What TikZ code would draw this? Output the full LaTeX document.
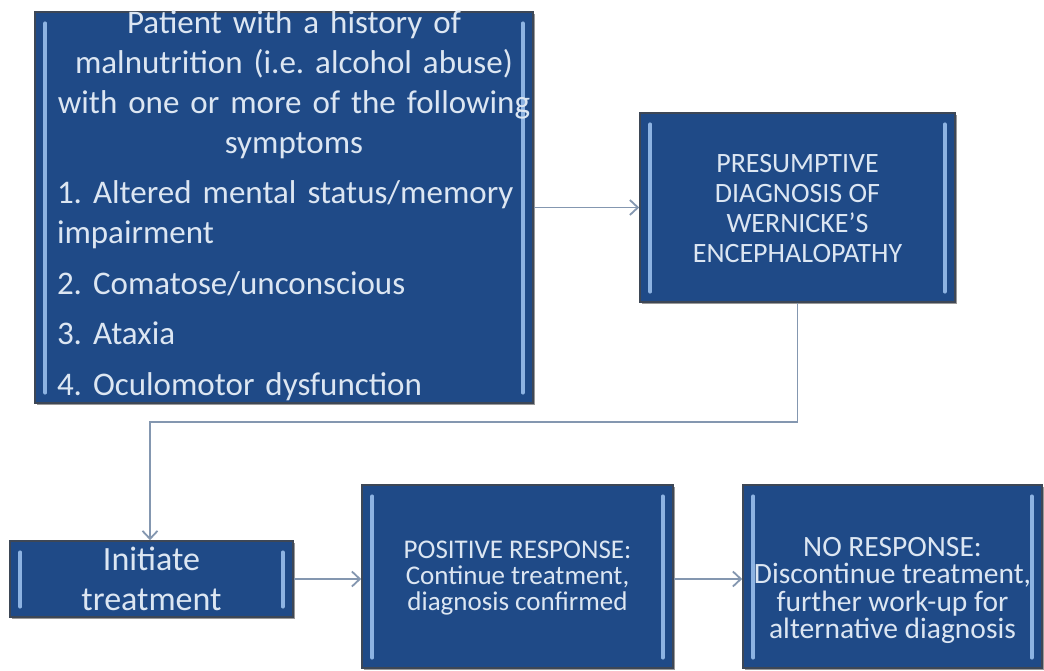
\documentclass[tikz,border=0pt]{standalone}
\usepackage{fontspec}
\setmainfont{Carlito}
\usetikzlibrary{arrows.meta,shadows}
\definecolor{boxblue}{HTML}{1F4A87}
\definecolor{boxedge}{HTML}{3D4756}
\definecolor{stripc}{HTML}{8DB3E2}
\definecolor{txtc}{HTML}{DCE6F2}
\definecolor{connc}{HTML}{8497B0}
\newcommand\sidestrips[1]{%
  \draw[stripline] ([xshift=11pt,yshift=-12pt]#1.north west) -- ([xshift=11pt,yshift=11pt]#1.south west);
  \draw[stripline] ([xshift=-11pt,yshift=-12pt]#1.north east) -- ([xshift=-11pt,yshift=11pt]#1.south east);}
\frenchspacing
\begin{document}
\begin{tikzpicture}[x=1pt,y=-1pt,
  box/.style={draw=boxedge, line width=1.6pt, fill=boxblue, inner sep=0pt,
    drop shadow={shadow xshift=1.5pt,shadow yshift=-2pt,opacity=0.4,fill=black}},
  lbl/.style={text=txtc, inner sep=0pt, align=center, anchor=north},
  stripline/.style={draw=stripc, line width=3.5pt, line cap=round},
  conn/.style={draw=connc, line width=1.8pt},
  arr/.style={conn, -{Straight Barb[length=8pt,width=15pt,line width=1.8pt]}}
]
\useasboundingbox (0,0) rectangle (1044,671);
\fill[white] (0,0) rectangle (1044,671);

\node[box, minimum width=498pt, minimum height=391pt] (b1) at (284,207.5) {};
\node[box, minimum width=315pt, minimum height=189pt] (b2) at (797.5,207.5) {};
\node[box, minimum width=283pt, minimum height=76pt] (b3) at (151.5,579) {};
\node[box, minimum width=311pt, minimum height=183pt] (b4) at (517.5,576.5) {};
\node[box, minimum width=299pt, minimum height=183pt] (b5) at (892.5,576.5) {};

\sidestrips{b1}
\sidestrips{b2}
\sidestrips{b3}
\sidestrips{b4}
\sidestrips{b5}

\node[lbl, text width=474pt, align=left, font=\fontsize{33}{40}\selectfont] (t1) at (294,10)
 {\frenchspacing\parskip=10.5pt {\centering Patient with a history of\\ malnutrition (i.e. alcohol abuse)\\ with one or more of the following\\ symptoms\par}
  \mbox{1. Altered mental status/memory}\\ impairment\par
  \mbox{2. Comatose/unconscious}\par
  \mbox{3. Ataxia}\par
  \mbox{4. Oculomotor dysfunction}\par};

\node[lbl, font=\fontsize{28}{30}\selectfont] (t2) at (797.5,154)
 {PRESUMPTIVE\\ DIAGNOSIS OF\\ WERNICKE'S\\ ENCEPHALOPATHY};

\node[lbl, font=\fontsize{34}{40}\selectfont] (t3) at (151.5,547)
 {Initiate\\ treatment};

\node[lbl, font=\fontsize{27}{26}\selectfont] (t4) at (517.5,541)
 {POSITIVE RESPONSE:\\ Continue treatment,\\ diagnosis confirmed};

\node[lbl, font=\fontsize{29.5}{27.5}\selectfont] (t5) at (892.5,537)
 {NO RESPONSE:\\ Discontinue treatment,\\ further work-up for\\ alternative diagnosis};

\coordinate (bend) at (150,422);
\draw[arr] (b1.east) -- (b2.west);
\draw[arr] (b2.south) |- (bend) -- (b3.north -| bend);
\draw[arr] (b3.east) -- (b3.east -| b4.west);
\draw[arr] (b3.east -| b4.east) -- (b3.east -| b5.west);
\end{tikzpicture}
\end{document}
